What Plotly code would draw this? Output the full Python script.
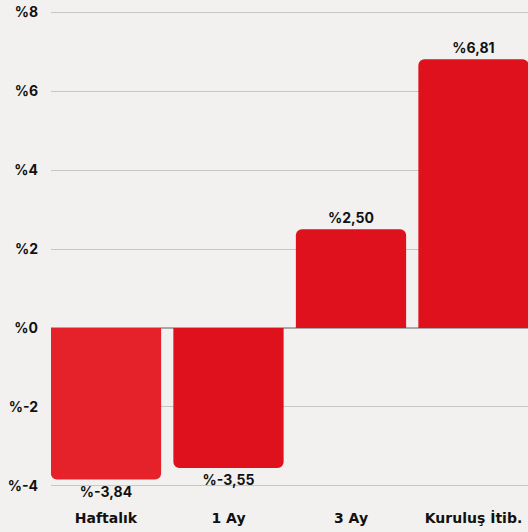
import plotly.graph_objects as go

categories = ["Haftalık", "1 Ay", "3 Ay", "Kuruluş İtib."]
values = [-3.84, -3.55, 2.50, 6.81]
value_labels = ["%-3,84", "%-3,55", "%2,50", "%6,81"]
bar_colors = ["#E5222A", "#DF111C", "#DF111C", "#DF111C"]
y_tickvals = [-4, -2, 0, 2, 4, 6, 8]
y_ticktext = ["%-4", "%-2", "%0", "%2", "%4", "%6", "%8"]

FONT = "Inter"

fig = go.Figure(go.Bar(
    x=categories,
    y=values,
    marker=dict(color=bar_colors, line=dict(width=0)),
    text=value_labels,
    textposition="outside",
    cliponaxis=False,
    textfont=dict(family=FONT, size=14, color="#111111", weight="bold"),
    hoverinfo="skip",
))

fig.update_layout(
    width=528, height=532,
    margin=dict(l=51, r=0, t=11, b=45),
    paper_bgcolor="#F2F1EF",
    plot_bgcolor="#F2F1EF",
    bargap=0.1,
    barcornerradius=6,
    showlegend=False,
    font=dict(family=FONT, color="#111111"),
)
fig.update_xaxes(
    range=[-0.449, 3.445],
    showgrid=False, zeroline=False, showline=False,
    tickfont=dict(family="DejaVu Sans", size=14, color="#111111", weight="bold"),
    ticklabelstandoff=21,
)
fig.update_yaxes(
    range=[-4.03, 8.03],
    tickvals=y_tickvals, ticktext=y_ticktext,
    showgrid=True, gridcolor="#C6C6C6", gridwidth=1,
    zeroline=True, zerolinecolor="#A8A8A8", zerolinewidth=2,
    showline=False,
    tickfont=dict(family=FONT, size=14, color="#111111", weight="bold"),
    ticklabelstandoff=12,
)

fig.write_html(
    "out.html",
    config={"displayModeBar": False},
    post_script="document.body.style.margin='0';document.body.style.overflow='hidden';document.body.style.background='#F2F1EF';",
)
